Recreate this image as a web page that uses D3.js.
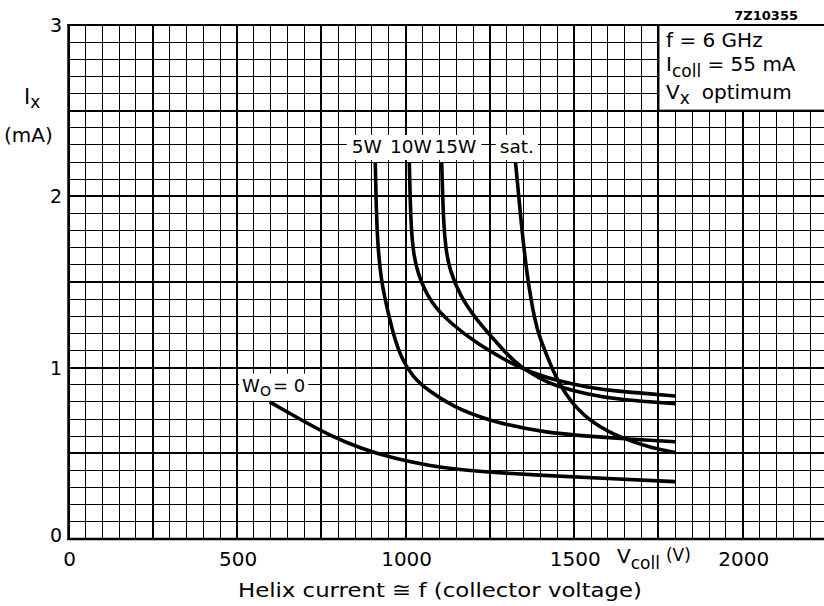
<!DOCTYPE html>
<html><head><meta charset="utf-8">
<script src="https://cdn.jsdelivr.net/npm/d3@7"></script>
<style>
body{margin:0;background:#fff}
text{font-family:"DejaVu Sans",sans-serif;fill:#000}
</style>
</head><body>
<svg id="c" width="824" height="606"></svg>
<script>
// ---- data (collector voltage V, helix current mA) ----
const xTicks = [0, 500, 1000, 1500, 2000];
const yTicks = [0, 1, 2, 3];

const w0V  = [597, 650, 700, 770, 870, 970, 1070, 1160, 1260, 1400, 1600, 1800];
const w0I  = [0.80, 0.74, 0.685, 0.61, 0.525, 0.468, 0.428, 0.404, 0.388, 0.372, 0.353, 0.335];

const w5V  = [910, 913, 917, 926, 941, 965, 990, 1020, 1064, 1143, 1240, 1400, 1640, 1800];
const w5I  = [2.20, 1.92, 1.73, 1.53, 1.38, 1.18, 1.045, 0.95, 0.87, 0.77, 0.695, 0.62, 0.585, 0.568];

const w10V = [1011, 1015, 1022, 1035, 1074, 1133, 1212, 1291, 1340, 1400, 1449, 1538, 1637, 1800];
const w10I = [2.20, 1.86, 1.68, 1.55, 1.376, 1.26, 1.14, 1.05, 1.0, 0.955, 0.925, 0.885, 0.86, 0.835];

const w15V = [1107, 1112, 1120, 1131, 1161, 1210, 1260, 1300, 1340, 1400, 1440, 1537, 1636, 1800];
const w15I = [2.20, 1.85, 1.68, 1.57, 1.42, 1.28, 1.17, 1.08, 1.005, 0.935, 0.897, 0.845, 0.812, 0.79];

const satV = [1326, 1345, 1360, 1383, 1400, 1418, 1448, 1497, 1556, 1636, 1733, 1800];
const satI = [2.20, 1.80, 1.54, 1.27, 1.165, 1.075, 0.93, 0.78, 0.675, 0.59, 0.53, 0.505];

const curveNames = ["5W", "10W", "15W", "sat."];

// ---- drawing ----
const svg = d3.select("#c");
const x = d3.scaleLinear().domain([0, 2250]).range([68.5, 827]);
const y = d3.scaleLinear().domain([0, 3]).range([539, 25]);

const grid = svg.append("g").attr("shape-rendering", "crispEdges");
const vMinor = d3.range(0, 46).map(k => k * 50);
const iMinor = d3.range(0, 31).map(k => k / 10);
grid.selectAll(".vm").data(vMinor).join("line")
  .attr("x1", d => x(d)).attr("x2", d => x(d)).attr("y1", y(0)).attr("y2", y(3))
  .attr("stroke", "#000").attr("stroke-width", d => d % 250 === 0 ? 2 : 1);
grid.selectAll(".hm").data(iMinor).join("line")
  .attr("y1", d => y(d)).attr("y2", d => y(d)).attr("x1", x(0)).attr("x2", x(2250))
  .attr("stroke", "#000").attr("stroke-width", (d, i) => i % 5 === 0 ? 2 : 1);

// condition box
svg.append("rect").attr("x", x(1750)).attr("y", y(3))
  .attr("width", x(2250) - x(1750)).attr("height", y(2.5) - y(3))
  .attr("fill", "#fff").attr("stroke", "#000").attr("stroke-width", 2);
const bt = svg.append("g").attr("font-size", 20);
bt.append("text").attr("x", 666).attr("y", 47).text("f = 6 GHz");
const t2 = bt.append("text").attr("x", 666).attr("y", 71);
t2.append("tspan").text("I");
t2.append("tspan").attr("dy", 6).attr("font-size", 17).text("coll");
t2.append("tspan").attr("dy", -6).text(" = 55 mA");
const t3 = bt.append("text").attr("x", 666).attr("y", 99);
t3.append("tspan").text("V");
t3.append("tspan").attr("dy", 5).attr("font-size", 17).text("x");
t3.append("tspan").attr("dy", -5).attr("dx", 12).text("optimum");

svg.append("text").attr("x", 798).attr("y", 20).attr("text-anchor", "end")
  .attr("font-size", 13).attr("font-weight", "bold").text("7Z10355");

// curves
const line = d3.line().x(d => x(d[0])).y(d => y(d[1])).curve(d3.curveBasis);
const series = [[w0V, w0I], [w5V, w5I], [w10V, w10I], [w15V, w15I], [satV, satI]];
svg.append("g").selectAll("path").data(series).join("path")
  .attr("d", s => line(s[0].map((v, i) => [v, s[1][i]])))
  .attr("fill", "none").attr("stroke", "#000").attr("stroke-width", 3.6)
  .attr("stroke-linecap", "butt").attr("stroke-linejoin", "round");

// curve labels
const labV = [885, 1016, 1148, 1330];
const lg = svg.append("g");
const bgA = lg.append("rect").attr("fill", "#fff");
const bgB = lg.append("rect").attr("fill", "#fff");
const labs = lg.selectAll("text").data(curveNames).join("text")
  .attr("x", (d, i) => x(labV[i])).attr("y", y(2.253))
  .attr("text-anchor", "middle").attr("font-size", 18.5).text(d => d);
function union(nodes) {
  const b = nodes.map(n => n.getBBox());
  const x0 = d3.min(b, d => d.x), x1 = d3.max(b, d => d.x + d.width);
  const y0 = d3.min(b, d => d.y), y1 = d3.max(b, d => d.y + d.height);
  return [x0, y0, x1, y1];
}
const ln = labs.nodes();
let u = union(ln.slice(0, 3));
bgA.attr("x", u[0] - 5).attr("y", u[1] - 1).attr("width", u[2] - u[0] + 10).attr("height", u[3] - u[1] + 4);
u = union(ln.slice(3));
bgB.attr("x", u[0] - 4).attr("y", u[1] - 1).attr("width", u[2] - u[0] + 8).attr("height", u[3] - u[1] + 4);

// W0 = 0 label
const wg = svg.append("g");
const wbg = wg.append("rect").attr("fill", "#fff");
const wt = wg.append("text").attr("x", x(515)).attr("y", y(0.86)).attr("font-size", 18);
wt.append("tspan").text("W");
wt.append("tspan").attr("dy", 4).attr("font-size", 14).text("O");
wt.append("tspan").attr("dy", -4).attr("dx", 2).text("= 0");
const wb = wt.node().getBBox();
wbg.attr("x", wb.x - 3).attr("y", wb.y - 1).attr("width", wb.width + 6).attr("height", wb.height + 3);

// axis frame
svg.append("line").attr("x1", x(0)).attr("x2", x(0)).attr("y1", y(0) + 1).attr("y2", y(3) - 1)
  .attr("stroke", "#000").attr("stroke-width", 2.5);
svg.append("line").attr("x1", x(0) - 1).attr("x2", x(2250)).attr("y1", y(0)).attr("y2", y(0))
  .attr("stroke", "#000").attr("stroke-width", 2.5);
svg.append("line").attr("x1", x(0) - 1).attr("x2", x(2250)).attr("y1", y(3)).attr("y2", y(3))
  .attr("stroke", "#000").attr("stroke-width", 2);

// tick labels
svg.append("g").selectAll("text").data(xTicks).join("text")
  .attr("x", d => x(d) + 1).attr("y", 566).attr("text-anchor", "middle")
  .attr("font-size", 20).text(d => d);
svg.append("g").selectAll("text").data(yTicks).join("text")
  .attr("x", 62).attr("y", d => y(d) + 7 - (d === 0 ? 4 : 0)).attr("text-anchor", "end")
  .attr("font-size", 19).text(d => d);

// axis titles
const yt = svg.append("text").attr("x", 24).attr("y", 104).attr("font-size", 21);
yt.append("tspan").text("I");
yt.append("tspan").attr("dy", 4).attr("font-size", 17).text("x");
svg.append("text").attr("x", 4).attr("y", 142).attr("font-size", 20).text("(mA)");

const vt = svg.append("text").attr("x", 617).attr("y", 563).attr("font-size", 20);
vt.append("tspan").text("V");
vt.append("tspan").attr("dy", 6).attr("font-size", 17).text("coll");
vt.append("tspan").attr("dy", -8).attr("dx", 6).attr("font-size", 17).text("(V)");

svg.append("text").attr("x", 238).attr("y", 597).attr("font-size", 20)
  .attr("textLength", 404).attr("lengthAdjust", "spacingAndGlyphs")
  .text("Helix current ≅ f (collector voltage)");
</script>
</body></html>
